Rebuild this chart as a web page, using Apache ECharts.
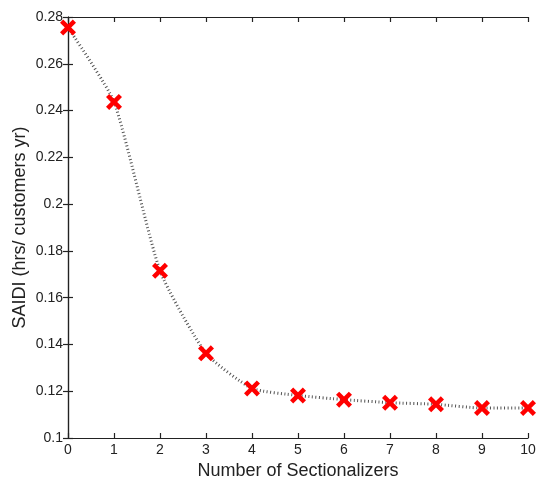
<!DOCTYPE html>
<html><head><meta charset="utf-8">
<script src="https://cdn.jsdelivr.net/npm/echarts@6/dist/echarts.min.js"></script>
<style>html,body{margin:0;padding:0;background:#fff}#c{width:536px;height:479px}</style>
</head><body><div id="c"></div>
<script>
var categories = [0,1,2,3,4,5,6,7,8,9,10];
var saidi = [0.2755,0.2437,0.1715,0.1362,0.1212,0.1182,0.1164,0.1151,0.1144,0.1128,0.1128];
var xTicks = [0,1,2,3,4,5,6,7,8,9,10];
var yTicks = [0.1,0.12,0.14,0.16,0.18,0.2,0.22,0.24,0.26,0.28];
var xName = 'Number of Sectionalizers';
var yName = 'SAIDI (hrs/ customers yr)';

var font = 'Liberation Sans, Arial, sans-serif';
var axisLine = {show:true, lineStyle:{color:'#222', width:1.2}};
var tick = {show:true, inside:true, length:5, lineStyle:{color:'#222', width:1.2}};
var chart = echarts.init(document.getElementById('c'));
chart.setOption({
  animation:false,
  grid:{left:68, top:17, right:8, bottom:41, outerBoundsMode:'none', containLabel:false},
  xAxis:[{
    type:'value', min:0, max:10, interval:1,
    axisLine:axisLine, axisTick:tick, splitLine:{show:false},
    axisLabel:{color:'#222', fontSize:14, fontFamily:font, margin:5},
    name:xName, nameLocation:'middle', nameGap:20,
    nameTextStyle:{color:'#222', fontSize:18, fontFamily:font}
  },{
    type:'value', min:0, max:10, interval:1, position:'top',
    axisLine:axisLine, axisTick:tick, axisLabel:{show:false}, splitLine:{show:false}
  }],
  yAxis:[{
    type:'value', min:0.1, max:0.28, interval:0.02,
    axisLine:axisLine, axisTick:tick, splitLine:{show:false},
    axisLabel:{color:'#222', fontSize:14, fontFamily:font, margin:5,
      formatter:function(v){return String(parseFloat(v.toFixed(2)));}},
    name:yName, nameLocation:'middle', nameGap:39, nameMoveOverlap:false,
    nameTextStyle:{color:'#222', fontSize:18, fontFamily:font}
  },{
    type:'value', min:0.1, max:0.28, interval:0.02, position:'right',
    axisLine:axisLine, axisTick:tick, axisLabel:{show:false}, splitLine:{show:false}
  }],
  series:[{
    type:'line',
    data:categories.map(function(c,i){return [c, saidi[i]];}),
    smooth:0.18,
    lineStyle:{color:'#555', width:3, type:[1,2.5]},
    symbol:'path://M2,0 L5,3 L8,0 L10,2 L7,5 L10,8 L8,10 L5,7 L2,10 L0,8 L3,5 L0,2 Z',
    symbolSize:16,
    itemStyle:{color:'#ff0000'},
    z:3
  }]
});
</script></body></html>
